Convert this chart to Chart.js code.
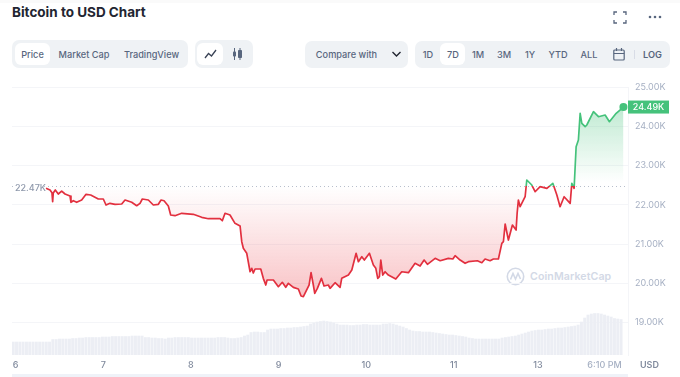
<!DOCTYPE html>
<html>
<head>
<meta charset="utf-8">
<title>Bitcoin to USD Chart</title>
<script src="https://cdn.jsdelivr.net/npm/chart.js@4"></script>
<style>
    html, body { margin: 0; padding: 0; background: #fff; }
    body { width: 680px; height: 377px; position: relative; overflow: hidden; font-family: Inter, "Noto Sans", sans-serif; color: #58667e; }
    canvas { position: absolute; left: 0; top: 0; }
    .abs { position: absolute; }
    .topstrip { left: 0; top: 0; width: 680px; height: 3px; background: #fafafa; }
    .title { left: 12px; top: 2px; font-size: 13.5px; line-height: 20px; font-weight: 700; color: #222531; white-space: nowrap; }
    .group { background: #eff2f5; border-radius: 7px; }
    .on { background: #fff; border-radius: 6px; }
    .lbl { font-size: 9.2px; line-height: 14px; font-weight: 500; transform: translateX(-50%); white-space: nowrap; }
    .strip { left: 12px; top: 374px; width: 616px; height: 3px; background: #eff2f8; }
    .usd { left: 640px; top: 358px; font-size: 9px; line-height: 14px; font-weight: 600; color: #808a9d; }
    .mark { left: 530px; top: 268px; font-size: 10.6px; line-height: 18px; font-weight: 600; color: #d3d9e6; white-space: nowrap; letter-spacing: 0.1px; }
</style>
</head>
<body>
<div class="abs topstrip"></div>
<div class="abs title">Bitcoin to USD Chart</div>

<svg class="abs" style="left:613px;top:11px" width="14" height="13" fill="none" stroke="#58667e" stroke-width="1.3">
    <path d="M1 4V1H4M10 1H13V4M13 9V12H10M4 12H1V9"/>
</svg>
<svg class="abs" style="left:648px;top:14px" width="14" height="6" fill="#58667e">
    <circle cx="2" cy="3" r="1.3"/><circle cx="7" cy="3" r="1.3"/><circle cx="12" cy="3" r="1.3"/>
</svg>

<div class="abs group" style="left:12px;top:40px;width:176px;height:28px"></div>
<div class="abs on" style="left:15px;top:43px;width:35px;height:22px"></div>
<div class="abs lbl" style="left:32.5px;top:48px">Price</div>
<div class="abs lbl" style="left:84px;top:48px">Market Cap</div>
<div class="abs lbl" style="left:151.5px;top:48px">TradingView</div>

<div class="abs group" style="left:195px;top:40px;width:58px;height:28px"></div>
<div class="abs on" style="left:197px;top:43px;width:26px;height:22px"></div>
<svg class="abs" style="left:204px;top:48px" width="13" height="12" fill="none" stroke="#3a4356" stroke-width="1.3">
    <path d="M1 10L4.5 5.5L7.5 8L12 2"/>
</svg>
<svg class="abs" style="left:232px;top:48px" width="11" height="12" fill="#58667e" stroke="#58667e">
    <path d="M2.5 0V12M8 0V12" stroke-width="1"/>
    <rect x="1" y="3.5" width="3" height="5" rx="0.8" stroke="none"/>
    <rect x="6" y="2" width="4" height="8" rx="0.8" stroke="none"/>
</svg>

<div class="abs group" style="left:305px;top:41px;width:103px;height:27px"></div>
<div class="abs lbl" style="left:346.5px;top:48px">Compare with</div>
<svg class="abs" style="left:391px;top:51px" width="11" height="7" fill="none" stroke="#222531" stroke-width="1.4">
    <path d="M1.5 1L5.5 5L9.5 1"/>
</svg>

<div class="abs group" style="left:415px;top:41px;width:255px;height:27px"></div>
<div class="abs on" style="left:440px;top:43px;width:25px;height:22px"></div>
<div class="abs lbl" style="left:428px;top:48px">1D</div>
<div class="abs lbl" style="left:453px;top:48px">7D</div>
<div class="abs lbl" style="left:478px;top:48px">1M</div>
<div class="abs lbl" style="left:504px;top:48px">3M</div>
<div class="abs lbl" style="left:530px;top:48px">1Y</div>
<div class="abs lbl" style="left:558px;top:48px">YTD</div>
<div class="abs lbl" style="left:589px;top:48px">ALL</div>
<svg class="abs" style="left:613px;top:48px" width="12" height="13" fill="none" stroke="#58667e" stroke-width="1.2">
    <rect x="0.8" y="2" width="10.4" height="10" rx="1"/><path d="M0.8 5.5H11.2M3.5 0V3M8.5 0V3"/>
</svg>
<div class="abs" style="left:634px;top:50px;width:1px;height:9px;background:#d8dce6"></div>
<div class="abs lbl" style="left:652.5px;top:48px;font-weight:600">LOG</div>

<svg class="abs" style="left:506px;top:267px" width="19" height="19" fill="none" stroke="#d3d9e6" stroke-width="1.6">
    <circle cx="9.5" cy="9.5" r="8.2"/><path d="M4.5 12.5L7 6.5L9.5 12L12 6.5L14.5 12"/>
</svg>
<div class="abs mark">CoinMarketCap</div>

<canvas id="btcChart" width="680" height="377"></canvas>

<div class="abs strip"></div>
<div class="abs usd">USD</div>

<script>
const priceTimes = [
    6.346, 6.392, 6.414, 6.422, 6.429, 6.452, 6.486, 6.525, 6.563, 6.620, 6.631, 6.658, 6.696, 6.753, 6.803, 6.856, 6.943,
    7.000, 7.031, 7.076, 7.134, 7.210, 7.248, 7.324, 7.381, 7.419, 7.445, 7.514, 7.571, 7.628, 7.659, 7.693, 7.742, 7.769, 7.818, 7.895,
    8.027, 8.123, 8.199, 8.332, 8.358, 8.389, 8.446, 8.503, 8.561, 8.580, 8.598, 8.637, 8.675, 8.694, 8.712, 8.732, 8.797, 8.826, 8.854, 8.869, 8.941, 8.998,
    9.043, 9.082, 9.112, 9.169, 9.226, 9.257, 9.283, 9.348, 9.371, 9.397, 9.413, 9.443, 9.489, 9.519, 9.568, 9.588, 9.645, 9.702, 9.721, 9.797, 9.836, 9.885, 9.911, 9.950, 9.979,
    10.037, 10.082, 10.110, 10.132, 10.151, 10.167, 10.189, 10.216, 10.253, 10.338, 10.406, 10.482, 10.558, 10.615, 10.661, 10.699, 10.787, 10.844, 10.938, 10.989,
    11.015, 11.072, 11.129, 11.167, 11.269, 11.320, 11.357, 11.414, 11.452, 11.509, 11.548, 11.566, 11.586, 11.623, 11.669, 11.711, 11.723, 11.737, 11.757, 11.814, 11.833, 11.890, 11.928, 11.985,
    12.062, 12.130, 12.176, 12.213, 12.259, 12.328, 12.347, 12.373, 12.396, 12.422, 12.442, 12.461, 12.499, 12.518, 12.594, 12.651, 12.727, 12.776, 12.853, 12.936
];
const priceValues = [
    22422, 22379, 22310, 22081, 22302, 22379, 22277, 22353, 22277, 22226, 22066, 22106, 22066, 22124, 22269, 22251, 22150,
    22150, 21997, 22040, 22015, 22022, 22124, 22066, 21979, 22040, 22150, 22124, 21997, 22015, 22124, 22106, 21971, 21742, 21725, 21786,
    21760, 21684, 21648, 21648, 21597, 21786, 21742, 21531, 21462, 21063, 20895, 20768, 20299, 20386, 20266, 20368, 20368, 20131, 19961, 20088, 20088, 19918,
    20030, 19902, 20004, 19902, 19859, 19681, 19663, 19961, 20274, 19961, 19750, 19877, 20131, 19935, 19961, 19877, 20019, 19902, 20131, 20215, 20343, 20768, 20554, 20681, 20597,
    20768, 20470, 20386, 20131, 20172, 20597, 20215, 20299, 20215, 20114, 20299, 20274, 20513, 20444, 20597, 20488, 20640, 20579, 20640, 20623,
    20707, 20597, 20513, 20554, 20579, 20528, 20623, 20579, 20623, 20623, 21022, 21063, 21513, 21106, 21488, 21361, 21793, 22124, 21954, 22208, 22633, 22506, 22335, 22463,
    22422, 22549, 22251, 21954, 22208, 22040, 22549, 22422, 23481, 23651, 24331, 24076, 23990, 24033, 24371, 24244, 24287, 24117, 24331, 24490
];

// volume in USD billions, one bar per sample
const volumeStart = 5.972;
const volumeStep = 0.0377;
const volumeValues = [
    26, 26, 26, 26, 26, 26, 26, 26, 26, 26,
    26, 26, 31, 31, 32, 32, 32, 32, 33, 33,
    34, 34, 35, 35, 35, 35, 35, 36, 36, 36,
    37, 37, 37, 37, 37, 37, 38, 38, 38, 38,
    35, 35, 34, 34, 33, 33, 32, 34, 34, 35,
    35, 35, 35, 35, 34, 34, 34, 34, 34, 34,
    34, 34, 35, 35, 35, 34, 33, 33, 34, 35,
    38, 40, 45, 46, 46, 45, 45, 50, 52, 52,
    52, 53, 53, 54, 54, 55, 55, 56, 57, 58,
    62, 64, 66, 67, 68, 67, 66, 64, 62, 60,
    60, 60, 59, 59, 60, 60, 61, 61, 60, 60,
    60, 60, 62, 62, 63, 62, 60, 58, 56, 53,
    50, 48, 47, 47, 46, 46, 46, 45, 44, 43,
    42, 41, 40, 40, 39, 38, 37, 36, 34, 33,
    32, 32, 32, 32, 32, 32, 32, 32, 34, 35,
    36, 37, 38, 40, 42, 44, 46, 48, 49, 50,
    50, 51, 52, 52, 53, 54, 54, 55, 56, 57,
    58, 60, 66, 74, 80, 82, 83, 83, 82, 80,
    78, 76, 73, 72, 71
];

const xTickValues = [6, 7, 8, 9, 10, 11, 11.96, 12.72];
const xTickLabels = ['6', '7', '8', '9', '10', '11', '13', '6:10 PM'];
const yTickValues = [19000, 20000, 21000, 22000, 23000, 24000, 25000];

const openPrice = 22470;
const lastPrice = 24490;

const RED = '#e2303f';
const GREEN = '#45c27b';

function formatK(value) {
    return (value / 1000).toFixed(2) + 'K';
}

// Line colour flips at the opening price
function lineColor(context) {
    const chart = context.chart;
    if (!chart.chartArea) return RED;
    const y = chart.scales.y;
    const top = chart.chartArea.top, bottom = chart.chartArea.bottom;
    const stop = (y.getPixelForValue(openPrice) - top) / (bottom - top);
    const g = chart.ctx.createLinearGradient(0, top, 0, bottom);
    g.addColorStop(0, GREEN);
    g.addColorStop(stop, GREEN);
    g.addColorStop(stop, RED);
    g.addColorStop(1, RED);
    return g;
}

// Area fades out towards the opening price from both sides
function areaColor(context) {
    const chart = context.chart;
    if (!chart.chartArea) return 'rgba(0,0,0,0)';
    const y = chart.scales.y;
    const top = y.getPixelForValue(24400), bottom = y.getPixelForValue(19660);
    const base = y.getPixelForValue(openPrice);
    const stop = (base - top) / (bottom - top);
    const g = chart.ctx.createLinearGradient(0, top, 0, bottom);
    g.addColorStop(0, 'rgba(69,194,123,0.32)');
    g.addColorStop(stop * 0.95, 'rgba(69,194,123,0)');
    g.addColorStop(stop, 'rgba(234,57,67,0)');
    g.addColorStop(1, 'rgba(234,57,67,0.3)');
    return g;
}

const priceGuides = {
    id: 'priceGuides',
    beforeDatasetsDraw(chart) {
        const { ctx, chartArea, scales } = chart;
        const base = scales.y.getPixelForValue(openPrice);
        ctx.save();
        ctx.strokeStyle = '#b8bfcc';
        ctx.lineWidth = 1;
        ctx.setLineDash([1, 3]);
        ctx.beginPath();
        ctx.moveTo(chartArea.left, Math.round(base) + 0.5);
        ctx.lineTo(chartArea.right, Math.round(base) + 0.5);
        ctx.stroke();
        ctx.restore();
    },
    afterDatasetsDraw(chart) {
        const { ctx, chartArea, scales } = chart;
        const base = scales.y.getPixelForValue(openPrice);
        const last = scales.y.getPixelForValue(lastPrice);
        ctx.save();
        ctx.font = '500 9px Inter';
        ctx.textBaseline = 'middle';
        ctx.textAlign = 'left';
        ctx.fillStyle = '#fff';
        ctx.fillRect(14, base - 3, 29, 10);
        ctx.fillStyle = '#8e98ab';
        ctx.fillText(formatK(openPrice), 15, base + 2);

        ctx.fillStyle = GREEN;
        ctx.fillRect(chartArea.right, last - 6.5, 41, 13);
        ctx.fillStyle = '#fff';
        ctx.textAlign = 'center';
        ctx.fillText(formatK(lastPrice), chartArea.right + 20.5, last + 0.5);
        ctx.restore();
    }
};

const ctx = document.getElementById('btcChart').getContext('2d');
new Chart(ctx, {
    type: 'bar',
    data: {
        datasets: [
            {
                type: 'line',
                label: 'Price',
                order: 1,
                data: priceTimes.map((t, i) => ({ x: t, y: priceValues[i] })),
                yAxisID: 'y',
                borderColor: lineColor,
                backgroundColor: areaColor,
                borderWidth: 1.7,
                borderJoinStyle: 'round',
                tension: 0,
                fill: { value: openPrice },
                pointRadius: c => (c.dataIndex === priceValues.length - 1 ? 4 : 0),
                pointBackgroundColor: GREEN,
                pointBorderWidth: 0
            },
            {
                type: 'bar',
                label: 'Volume',
                order: 2,
                data: volumeValues.map((v, i) => ({ x: volumeStart + i * volumeStep, y: v })),
                yAxisID: 'yVolume',
                backgroundColor: '#eceef4',
                barThickness: 2.3
            }
        ]
    },
    options: {
        responsive: false,
        animation: false,
        layout: { padding: { left: 12, top: 87, right: 0, bottom: 0 } },
        plugins: {
            legend: { display: false },
            title: { display: false },
            tooltip: { enabled: false }
        },
        scales: {
            x: {
                type: 'linear',
                offset: false,
                min: 5.958,
                max: 12.988,
                grid: { display: false, drawTicks: false, tickLength: 0 },
                border: { display: false },
                afterBuildTicks: axis => { axis.ticks = xTickValues.map(v => ({ value: v })); },
                afterFit: axis => { axis.height = 22; },
                ticks: {
                    autoSkip: false,
                    maxRotation: 0,
                    padding: 5,
                    font: { family: 'Inter', size: 9, weight: '500' },
                    color: c => (c.index === xTickLabels.length - 1 ? '#a6b0c3' : '#808a9d'),
                    callback: (value, index) => xTickLabels[index]
                }
            },
            y: {
                position: 'right',
                min: 18180,
                max: 25000,
                grid: { color: '#f4f5f8', drawTicks: false },
                border: { display: true, color: '#f4f5f8' },
                afterBuildTicks: axis => { axis.ticks = yTickValues.map(v => ({ value: v })); },
                afterFit: axis => { axis.width = 52; },
                ticks: {
                    padding: 7,
                    font: { family: 'Inter', size: 9 },
                    color: '#a6b0c3',
                    callback: value => formatK(value)
                }
            },
            yVolume: {
                display: false,
                min: 0,
                max: 536
            }
        }
    },
    plugins: [priceGuides]
});
</script>
</body>
</html>
